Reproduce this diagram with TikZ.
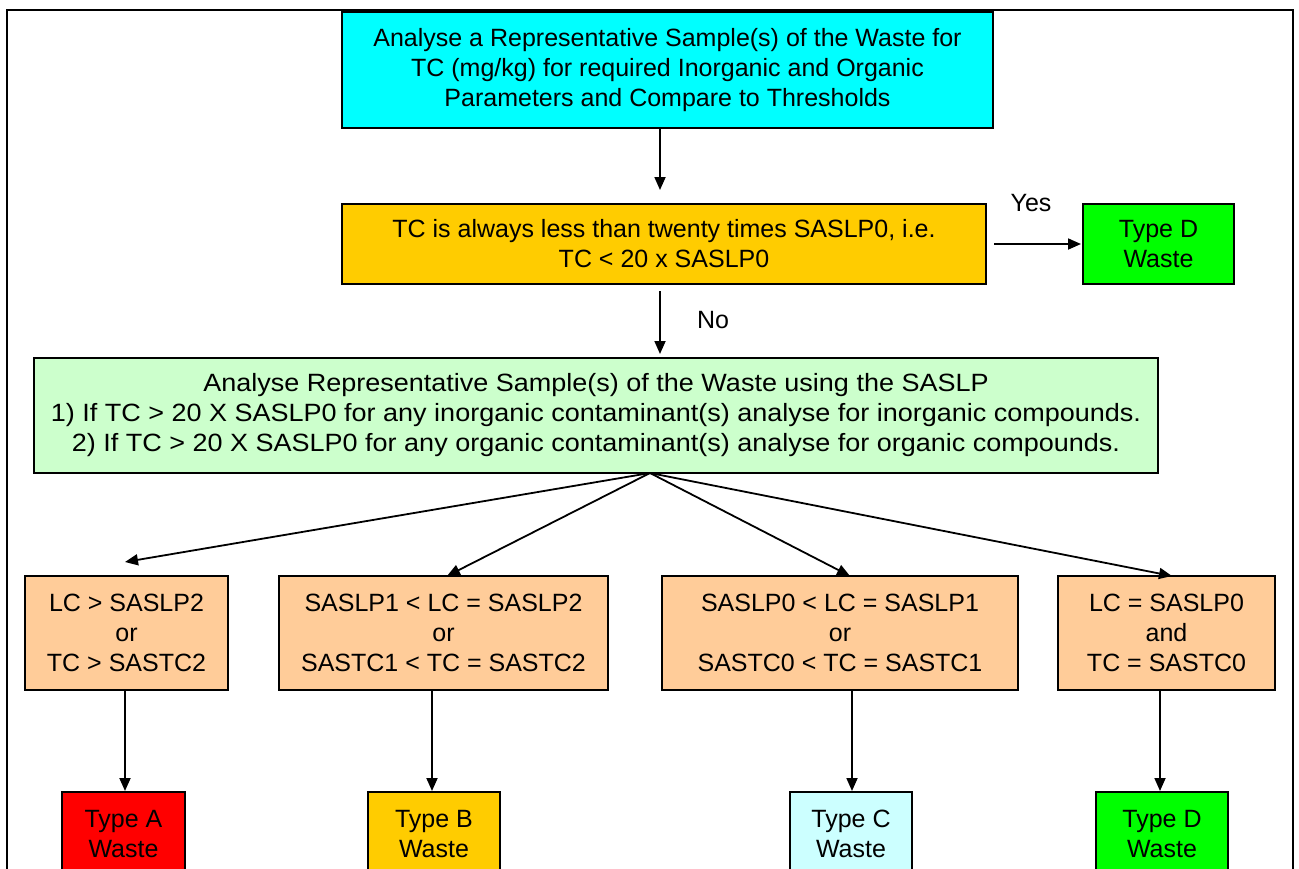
\documentclass[tikz,border=0pt]{standalone}
\usepackage{fontspec}
\setmainfont{Liberation Sans}
\newfontfamily\widefont[FakeStretch=1.08]{Liberation Sans}
\usetikzlibrary{arrows.meta}
\definecolor{cyanbox}{HTML}{00FFFF}
\definecolor{ambox}{HTML}{FFCC00}
\definecolor{grbox}{HTML}{00FF00}
\definecolor{lgbox}{HTML}{CCFFCC}
\definecolor{pebox}{HTML}{FFCC99}
\definecolor{rdbox}{HTML}{FF0000}
\definecolor{lcbox}{HTML}{CCFFFF}
\begin{document}
\begin{tikzpicture}[x=1pt,y=-1pt,
  box/.style={draw=black, line width=2pt, align=center, inner sep=0pt,
    font=\fontsize{25}{30}\selectfont},
  arr/.style={-{Triangle[length=13pt,width=11pt]}, line width=1.8pt},
  lbl/.style={font=\fontsize{25}{30}\selectfont, inner sep=0pt}]
\useasboundingbox (0,0) rectangle (1299,868);
\clip (0,0) rectangle (1299,868);
\draw[line width=2.2pt] (7,10) rectangle (1293,920);

\node[box, fill=cyanbox, minimum width=651pt, minimum height=116pt] (top) at (667.5,70)
  {Analyse a Representative Sample(s) of the Waste for\\TC (mg/kg) for required Inorganic and Organic\\Parameters and Compare to Thresholds};
\node[box, fill=ambox, minimum width=644pt, minimum height=80pt] (cond) at (664,244)
  {TC is always less than twenty times SASLP0, i.e.\\TC < 20 x SASLP0};
\node[box, fill=grbox, minimum width=151pt, minimum height=80pt] (td1) at (1158.5,244)
  {Type D\\Waste};
\node[box, fill=lgbox, minimum width=1124pt, minimum height=115pt,
  font=\widefont\fontsize{25}{30}\selectfont] (sas) at (596,415.5)
  {Analyse Representative Sample(s) of the Waste  using the SASLP\\1) If TC > 20 X SASLP0 for any inorganic contaminant(s) analyse for inorganic compounds.\\2) If TC > 20 X SASLP0 for any organic contaminant(s) analyse for organic compounds.};

\node[box, fill=pebox, minimum width=203pt, minimum height=114pt] (b1) at (126.5,633)
  {LC > SASLP2\\or\\TC > SASTC2};
\node[box, fill=pebox, minimum width=329pt, minimum height=114pt] (b2) at (443.5,633)
  {SASLP1 < LC = SASLP2\\or\\SASTC1 < TC = SASTC2};
\node[box, fill=pebox, minimum width=356pt, minimum height=114pt] (b3) at (840,633)
  {SASLP0 < LC = SASLP1\\or\\SASTC0 < TC = SASTC1};
\node[box, fill=pebox, minimum width=217pt, minimum height=114pt] (b4) at (1166.5,633)
  {LC = SASLP0\\and\\TC = SASTC0};

\node[box, fill=rdbox, minimum width=123pt, minimum height=84pt] (ta) at (123.5,834) {Type A\\Waste};
\node[box, fill=ambox, minimum width=132pt, minimum height=84pt] (tb) at (434,834) {Type B\\Waste};
\node[box, fill=lcbox, minimum width=122pt, minimum height=84pt] (tc) at (851,834) {Type C\\Waste};
\node[box, fill=grbox, minimum width=132pt, minimum height=84pt] (td2) at (1162,834) {Type D\\Waste};

% connectors
\coordinate (mx) at (660,0);
\draw[arr, shorten >=13pt] (top.south -| mx) -- (cond.north -| mx);
\draw[arr, shorten <=6pt, shorten >=3pt] (cond.south -| mx) -- (sas.north -| mx);
\node[lbl] (no) at (713,320) {No};
\draw[arr, shorten <=7pt, shorten >=1pt] (cond.east) -- (td1.west);
\node[lbl] (yes) at (1031,203) {Yes};

\coordinate (apex) at (650,473);
\coordinate (e1) at (125,562);
\coordinate (e2) at (447,576);
\coordinate (e3) at (850,576);
\coordinate (e4) at (1172,576);
\draw[arr] (apex) -- (e1);
\draw[arr] (apex) -- (e2);
\draw[arr] (apex) -- (e3);
\draw[arr] (apex) -- (e4);

\coordinate (x1) at (125,0);
\coordinate (x2) at (432,0);
\coordinate (x3) at (852,0);
\coordinate (x4) at (1160,0);
\draw[arr] (b1.south -| x1) -- (ta.north -| x1);
\draw[arr] (b2.south -| x2) -- (tb.north -| x2);
\draw[arr] (b3.south -| x3) -- (tc.north -| x3);
\draw[arr] (b4.south -| x4) -- (td2.north -| x4);
\end{tikzpicture}
\end{document}
